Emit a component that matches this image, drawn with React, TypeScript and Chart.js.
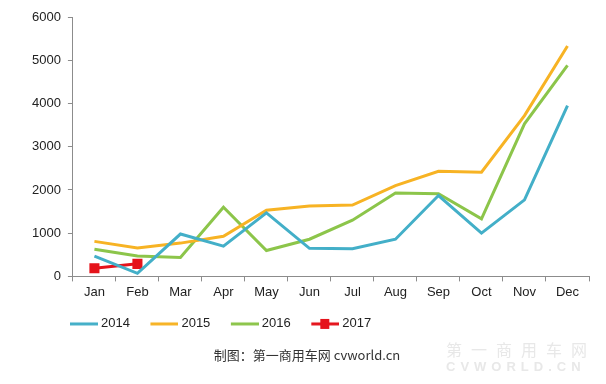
import React, { useEffect, useRef } from "react";
import { Chart, registerables } from "chart.js";

Chart.register(...registerables);

const months = ["Jan", "Feb", "Mar", "Apr", "May", "Jun", "Jul", "Aug", "Sep", "Oct", "Nov", "Dec"];
const s2014 = [470, 70, 980, 700, 1470, 650, 640, 860, 1870, 1000, 1770, 3950];
const s2015 = [810, 660, 770, 930, 1530, 1630, 1650, 2100, 2430, 2410, 3720, 5330];
const s2016 = [630, 470, 440, 1600, 600, 860, 1300, 1930, 1910, 1330, 3530, 4880];
const s2017 = [190, 290];
const yTicks = [0, 1000, 2000, 3000, 4000, 5000, 6000];
const caption = "制图：第一商用车网 cvworld.cn";

const C2014 = "#43afc8";
const C2015 = "#f7b324";
const C2016 = "#8cc54a";
const C2017 = "#e5131b";

const BOX = 40;
const ICON_W = BOX + 7;

function legendIcon(color: string, marker: boolean) {
  const c = document.createElement("canvas");
  c.width = ICON_W;
  c.height = 12;
  const ctx = c.getContext("2d")!;
  const x0 = ICON_W - 28;
  ctx.strokeStyle = color;
  ctx.lineWidth = 3;
  ctx.beginPath();
  ctx.moveTo(x0, 6);
  ctx.lineTo(ICON_W, 6);
  ctx.stroke();
  if (marker) {
    ctx.fillStyle = color;
    ctx.fillRect(x0 + 9, 1, 9, 10);
  }
  return c;
}

const legendShift = {
  id: "legendShift",
  afterLayout(chart: any) {
    const lg = chart.legend;
    if (lg) {
      const w = lg.width;
      lg.left = 49.5;
      lg.right = lg.left + w;
    }
  },
};

export default function App() {
  const ref = useRef<HTMLCanvasElement>(null);
  useEffect(() => {
    const font = "'Liberation Sans', Arial, sans-serif";
    const chart = new Chart(ref.current!, {
      type: "line",
      data: {
        labels: months,
        datasets: [
          { label: "2014", data: s2014, borderColor: C2014, backgroundColor: C2014, borderWidth: 3, pointRadius: 0, tension: 0 },
          { label: "2015", data: s2015, borderColor: C2015, backgroundColor: C2015, borderWidth: 3, pointRadius: 0, tension: 0 },
          { label: "2016", data: s2016, borderColor: C2016, backgroundColor: C2016, borderWidth: 3, pointRadius: 0, tension: 0 },
          { label: "2017", data: s2017, borderColor: C2017, backgroundColor: C2017, borderWidth: 3, pointRadius: 5, pointStyle: "rect", tension: 0 },
        ],
      },
      plugins: [legendShift],
      options: {
        animation: false,
        responsive: false,
        layout: { padding: { left: 25, right: 17, top: 17, bottom: 21 } },
        scales: {
          x: {
            offset: true,
            afterFit: (axis: any) => {
              axis.height = 36;
            },
            border: { color: "#8c8c8c", width: 1 },
            grid: { display: true, offset: true, drawOnChartArea: false, drawTicks: true, tickLength: 5, color: "#8c8c8c" },
            ticks: { color: "#222", font: { family: font, size: 13 }, padding: 3, maxRotation: 0, autoSkip: false },
          },
          y: {
            min: 0,
            max: 6000,
            afterBuildTicks: (axis: any) => {
              axis.ticks = yTicks.map((v) => ({ value: v }));
            },
            border: { color: "#8c8c8c", width: 1 },
            grid: { display: true, drawOnChartArea: false, drawTicks: true, tickLength: 5, color: "#8c8c8c" },
            ticks: {
              color: "#222",
              font: { family: font, size: 13 },
              padding: 7,
              callback: (v: any) => String(v),
            },
          },
        },
        plugins: {
          tooltip: { enabled: false },
          legend: {
            position: "bottom",
            align: "start",
            labels: {
              usePointStyle: true,
              pointStyleWidth: BOX,
              color: "#222",
              font: { family: font, size: 13 },
              padding: 5,
              generateLabels: (ch: any) =>
                ch.data.datasets.map((d: any, i: number) => ({
                  text: d.label,
                  fillStyle: d.borderColor,
                  strokeStyle: d.borderColor,
                  lineWidth: 0,
                  pointStyle: legendIcon(d.borderColor, i === 3),
                  hidden: false,
                  datasetIndex: i,
                  fontColor: "#222",
                })),
            },
          },
          title: {
            display: true,
            position: "bottom",
            text: caption,
            color: "#333",
            font: { family: "'Noto Sans CJK SC', 'Liberation Sans', sans-serif", size: 13, weight: "normal" },
            padding: { top: 7, bottom: 0 },
          },
        },
      },
    });
    return () => chart.destroy();
  }, []);
  return (
    <div style={{ position: "absolute", left: 0, top: 0, width: 606, height: 384, background: "#fff" }}>
      <canvas ref={ref} width={606} height={384} style={{ display: "block" }} />
      <div
        style={{
          position: "absolute",
          left: 446,
          top: 340,
          color: "#e8e8e8",
          fontFamily: "'Noto Sans CJK SC', sans-serif",
          fontSize: 16,
          letterSpacing: 9,
          lineHeight: "18px",
        }}
      >
        第一商用车网
        <div style={{ fontFamily: "'Liberation Sans', sans-serif", fontWeight: "bold", fontSize: 13, letterSpacing: 5 }}>CVWORLD.CN</div>
      </div>
    </div>
  );
}
